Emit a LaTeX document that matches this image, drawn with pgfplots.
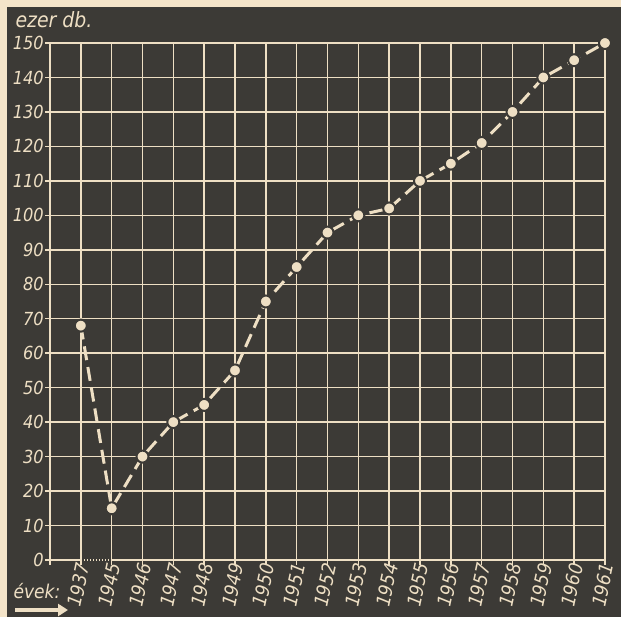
\documentclass[border=0pt]{standalone}
\usepackage{fontspec}
\setmainfont{DejaVu Sans Condensed}
\usepackage{pgfplots}
\pgfplotsset{compat=1.18}
\usetikzlibrary{arrows.meta}
\definecolor{bg}{HTML}{3C3A36}
\definecolor{cr}{HTML}{EEDFC4}
\definecolor{paper}{HTML}{F4E4C9}
\begin{document}
\begin{tikzpicture}[x=1pt,y=1pt]
\fill[paper] (0,0) rectangle (621,617);
\fill[bg] (7,0) rectangle (621,610);
\begin{axis}[
  at={(50pt,57pt)}, anchor=south west,
  scale only axis, width=555pt, height=517pt,
  xmin=-1, xmax=17, ymin=0, ymax=150,
  axis lines*=left,
  x axis line style={draw=none},
  y axis line style={draw=cr, line width=1.5pt},
  xtick={-1,0,...,17},
  xticklabels={,1937,1945,1946,1947,1948,1949,1950,1951,1952,1953,1954,1955,1956,1957,1958,1959,1960,1961},
  ytick={10,20,...,150},
  extra y ticks={0},
  extra y tick style={grid=none},
  grid=major,
  major grid style={draw=cr, line width=1.5pt},
  tick align=outside,
  major tick length=5pt,
  tick style={draw=cr, line width=1.5pt},
  yticklabel style={font=\fontsize{18}{18}\selectfont\itshape, text=cr, inner sep=1pt},
  xticklabel style={font=\fontsize{19}{19}\selectfont\itshape, text=cr, rotate=78, anchor=east, inner sep=1pt, xshift=3pt, yshift=-2pt},
  /pgf/number format/assume math mode=true,
  clip=false,
]
\draw[cr, line width=1.5pt] (axis cs:-1,0) -- (axis cs:0,0);
\draw[cr, line width=1.5pt, dash pattern=on 1.5pt off 1.5pt] (axis cs:0,0) -- (axis cs:1,0);
\draw[cr, line width=1.5pt] (axis cs:1,0) -- (axis cs:17,0);
\addplot[cr, line width=3pt, dash pattern=on 14pt off 7pt, mark=*, mark size=6pt,
  mark options={solid, fill=cr, draw=bg, line width=2pt}] coordinates {
  (0,68) (1,15) (2,30) (3,40) (4,45) (5,55) (6,75) (7,85) (8,95) (9,100)
  (10,102) (11,110) (12,115) (13,121) (14,130) (15,140) (16,145) (17,150)
};
\end{axis}
\node[anchor=west, text=cr, font=\fontsize{21}{21}\selectfont\itshape] at (12,597) {ezer db.};
\node[anchor=west, text=cr, font=\fontsize{19}{19}\selectfont\itshape] at (10,26) {évek:};
\draw[cr, line width=4pt, -{Triangle[length=10pt,width=12pt]}] (15,7) -- (68,7);
\pgfresetboundingbox
\useasboundingbox (0,0) rectangle (621,617);
\end{tikzpicture}
\end{document}
